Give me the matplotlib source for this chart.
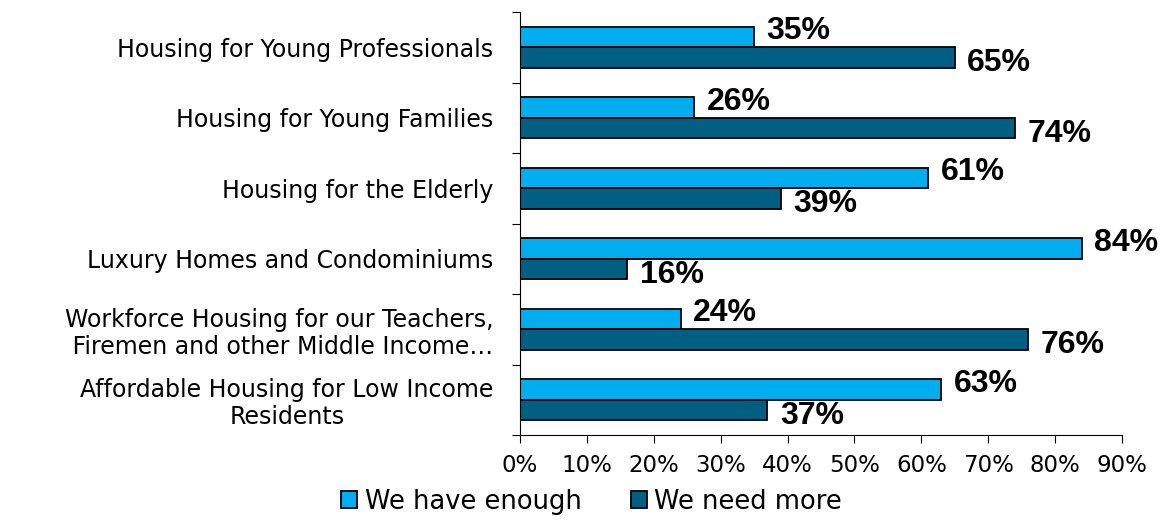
import numpy as np
import matplotlib.pyplot as plt
from matplotlib.ticker import FixedLocator, PercentFormatter

categories = [
    "Housing for Young Professionals",
    "Housing for Young Families",
    "Housing for the Elderly",
    "Luxury Homes and Condominiums",
    "Workforce Housing for our Teachers,\n Firemen and other Middle Income\u2026",
    "Affordable Housing for Low Income\nResidents",
]
have_enough = [35, 26, 61, 84, 24, 63]
need_more = [65, 74, 39, 16, 76, 37]
x_ticks = [0, 10, 20, 30, 40, 50, 60, 70, 80, 90]

light = "#00AEEF"
dark = "#005F83"

plt.rcParams["font.family"] = "DejaVu Sans"

fig = plt.figure(figsize=(11.6, 5.22), dpi=100)
ax = fig.add_axes([520 / 1160, 1 - 435 / 522, 602 / 1160, 423 / 522])

y = np.arange(len(categories))
h = 0.29
b1 = ax.barh(y - h / 2, have_enough, height=h, color=light, edgecolor="black",
             linewidth=1.3, label="We have enough")
b2 = ax.barh(y + h / 2, need_more, height=h, color=dark, edgecolor="black",
             linewidth=1.3, label="We need more")

# value labels just past the bar ends
for bars, vals, dy in [(b1, have_enough, 4), (b2, need_more, -4)]:
    for bar, v in zip(bars, vals):
        yc = bar.get_y() + bar.get_height() / 2
        ax.annotate(f"{v}%", (v, yc), xytext=(9, dy), textcoords="offset points",
                    ha="left", va="center", fontsize=23, fontweight="bold",
                    family="Liberation Sans", color="black")

ax.set_xlim(0, 90)
ax.set_ylim(len(categories) - 0.5, -0.5)
ax.set_xticks(x_ticks)
ax.xaxis.set_major_formatter(PercentFormatter(decimals=0))
ax.tick_params(axis="x", length=6, width=0.8, pad=8, labelsize=16.5)

ax.set_yticks(y)
ax.set_yticklabels(categories, fontsize=17, multialignment="center",
                   linespacing=1.15)
ax.tick_params(axis="y", which="major", length=0, pad=19)
ax.yaxis.set_minor_locator(FixedLocator(np.arange(-0.5, len(categories), 1)))
ax.tick_params(axis="y", which="minor", length=6, width=0.8)

for s in ["top", "right"]:
    ax.spines[s].set_visible(False)
for s in ["left", "bottom"]:
    ax.spines[s].set_linewidth(0.8)

fig.legend(handles=[b1, b2], loc="lower center", bbox_to_anchor=(0.51, -0.03),
           ncol=2, frameon=False, fontsize=18.5, handlelength=0.62,
           handleheight=0.62, handletextpad=0.3, columnspacing=1.9)

fig.savefig("out.png", dpi=100)
